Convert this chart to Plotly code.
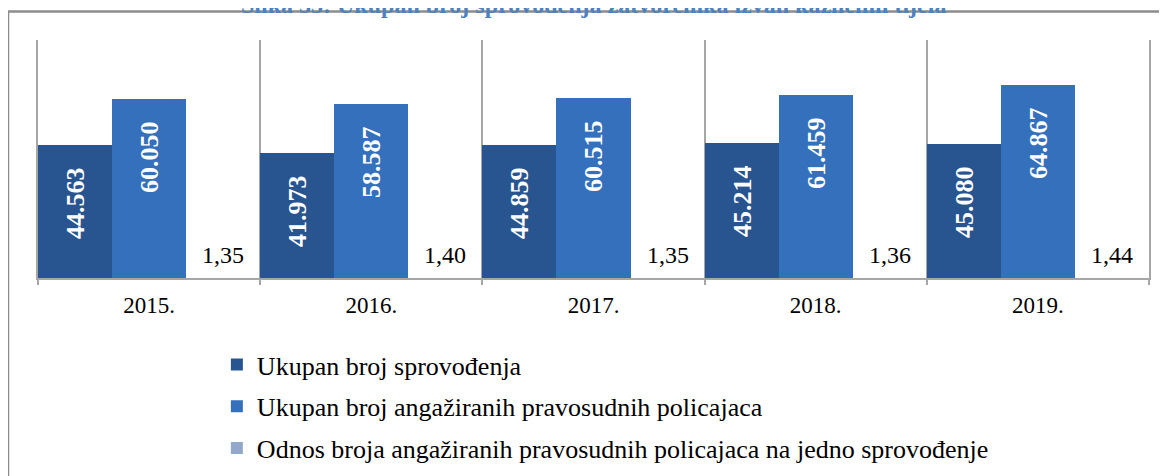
import plotly.graph_objects as go

# podaci
godine = ["2015.", "2016.", "2017.", "2018.", "2019."]
sprovodjenja = [44563, 41973, 44859, 45214, 45080]
policajci = [60050, 58587, 60515, 61459, 64867]
odnos = [1.35, 1.40, 1.35, 1.36, 1.44]

naslov = "Slika 33: Ukupan broj sprovođenja zatvorenika izvan kaznenih tijela"
serif = "Liberation Serif, Times New Roman, serif"

fig = go.Figure()

fig.add_trace(go.Bar(
    x=godine, y=sprovodjenja,
    name="Ukupan broj sprovođenja",
    legendgroup="a",
    marker=dict(color="#285490", line=dict(width=0)),
    texttemplate="%{y:,}\u00a0\u00a0\u00a0",
    textposition="inside", insidetextanchor="end", textangle=-90,
    textfont=dict(family=serif, size=26, color="white", weight="bold"),
))

fig.add_trace(go.Bar(
    x=godine, y=policajci,
    name="Ukupan broj angažiranih pravosudnih policajaca",
    legendgroup="b",
    marker=dict(color="#3470bb", line=dict(width=0)),
    texttemplate="%{y:,}\u00a0\u00a0\u00a0",
    textposition="inside", insidetextanchor="end", textangle=-90,
    textfont=dict(family=serif, size=26, color="white", weight="bold"),
))

# vrijednosti odnosa su zanemarive na skali, pa se vidi samo oznaka
fig.add_trace(go.Bar(
    x=godine, y=odnos,
    name="Odnos broja angažiranih pravosudnih policajaca na jedno sprovođenje",
    legendgroup="c",
    marker=dict(color="#93a7cb", line=dict(width=0)),
    texttemplate='<span style="font-size:24px">%{y:.2f}</span><br>\u00a0',
    textposition="outside",
    textfont=dict(family=serif, size=8, color="black"),
    cliponaxis=False,
))

fig.update_layout(
    width=1159, height=468,
    margin=dict(l=30, r=18, t=32, b=198, autoexpand=False),
    barmode="group", bargap=0, bargroupgap=0,
    separators=",.",
    paper_bgcolor="white", plot_bgcolor="white",
    font=dict(family=serif, size=23, color="black"),
    showlegend=True,
    legend=dict(
        x=0.161, y=-0.265, xanchor="left", yanchor="top",
        orientation="v", tracegroupgap=5,
        font=dict(family=serif, size=26, color="black"),
        bgcolor="rgba(0,0,0,0)",
    ),
    xaxis=dict(
        type="category", tickson="boundaries", automargin=False,
        showgrid=True, gridcolor="#a6a6a6", gridwidth=1.5,
        showline=True, linecolor="#a6a6a6", linewidth=1.5,
        ticks="outside", ticklen=5, tickcolor="#a6a6a6", tickwidth=1.5,
        ticklabelstandoff=6,
        tickfont=dict(family=serif, size=23, color="black"),
    ),
    yaxis=dict(
        range=[0, 80000], showgrid=False, zeroline=False, automargin=False,
        showticklabels=False, showline=True, mirror=True,
        linecolor="#a6a6a6", linewidth=1.5,
    ),
)

# okvir grafikona i odrezani naslov
fig.add_shape(type="line", xref="paper", yref="paper",
              x0=-0.03, x1=1.1, y0=1.1197, y1=1.1197,
              line=dict(color="#8c8c8c", width=2.5))
fig.add_shape(type="line", xref="paper", yref="paper",
              x0=-0.027, x1=-0.027, y0=1.1197, y1=-0.9,
              line=dict(color="#8c8c8c", width=2.5))
fig.add_annotation(text="<b>" + naslov + "</b>", xref="paper", yref="paper",
                   x=0.5, y=1.083, xanchor="center", yanchor="bottom",
                   showarrow=False,
                   font=dict(family=serif, size=24, color="#4f81bd"))

fig.write_html("out.html")
